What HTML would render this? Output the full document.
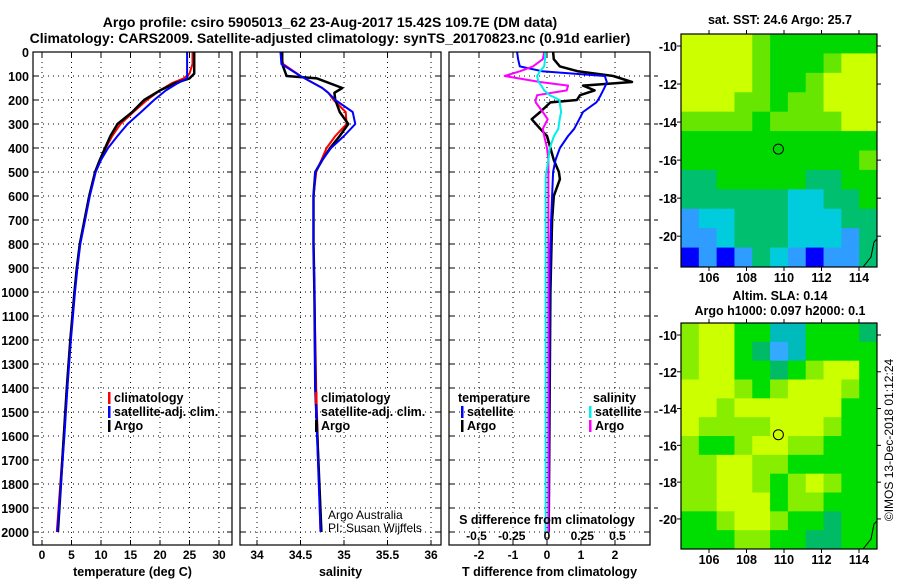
<!DOCTYPE html>
<html><head><meta charset="utf-8"><style>
body{margin:0;background:#fff;width:900px;height:580px;overflow:hidden}
svg{display:block;font-family:"Liberation Sans",Arial,sans-serif}
</style></head><body>
<svg id="c" width="900" height="580" xmlns="http://www.w3.org/2000/svg">
<text x="330" y="27" text-anchor="middle" font-size="14" font-weight="bold">Argo profile: csiro 5905013_62 23-Aug-2017 15.42S 109.7E (DM data)</text>
<text x="330" y="43" text-anchor="middle" font-size="14" font-weight="bold">Climatology: CARS2009. Satellite-adjusted climatology: synTS_20170823.nc (0.91d earlier)</text>
</svg>
<script>
const depths=[0,50,90,110,130,160,200,250,300,350,400,450,500,600,700,800,900,1000,1200,1400,1600,1800,2000];
const tArgo=[25.8,25.8,25.8,25.0,22.5,20.0,17.3,15.3,12.8,11.6,10.7,9.8,9.0,8.0,7.2,6.4,5.9,5.5,4.8,4.2,3.7,3.2,2.7];
const tClim=[25.5,25.5,25.0,24.0,22.0,20.0,17.8,15.5,13.3,11.9,10.8,9.8,9.0,8.0,7.2,6.4,5.9,5.5,4.8,4.2,3.7,3.1,2.5];
const tSat=[24.6,24.6,24.6,24.6,23.0,21.0,19.0,16.8,14.5,12.8,11.2,10.0,9.1,8.1,7.3,6.5,6.0,5.6,4.9,4.3,3.8,3.2,2.6];
const sDepths=[0,50,100,110,150,170,200,250,300,350,400,450,500,600,800,1000,1400,2000];
const sArgo=[34.29,34.29,34.34,34.69,34.98,34.89,34.9,34.95,35.05,34.95,34.84,34.75,34.67,34.65,34.65,34.66,34.67,34.74];
const sClim=[34.27,34.3,34.5,34.55,34.75,34.82,34.88,35.02,35.03,34.9,34.8,34.74,34.68,34.65,34.65,34.66,34.68,34.73];
const sSat=[34.27,34.28,34.5,34.55,34.75,34.82,34.9,35.1,35.13,35.0,34.85,34.75,34.67,34.65,34.65,34.66,34.67,34.73];
const dDepths=[0,30,60,80,100,125,140,160,180,200,210,250,280,320,350,400,450,500,530,600,700,1000,2000];
const dtSat=[-0.88,-0.85,-0.8,-0.15,1.7,1.76,1.72,1.65,1.58,1.5,1.45,1.06,0.95,0.8,0.62,0.38,0.25,0.18,0.17,0.15,0.12,0.08,0.05];
const dtArgo=[0.18,0.2,0.38,0.9,1.95,2.5,1.06,1.4,0.97,0.88,0.1,-0.2,-0.45,-0.2,0.0,0.1,0.2,0.35,0.38,0.2,0.15,0.1,0.05];
const dsSat=[-0.014,-0.014,-0.02,-0.05,-0.07,-0.06,-0.04,-0.02,0.02,0.09,0.09,0.1,0.09,0.08,0.05,0.02,0.01,-0.005,-0.01,-0.01,-0.01,-0.01,-0.01];
const dsArgo=[-0.02,-0.03,-0.1,-0.19,-0.3,-0.05,0.15,0.14,-0.07,-0.08,-0.08,-0.03,0.005,-0.03,-0.02,0.0,0.01,0.01,0.01,0.01,0.01,0.01,0.01];
const depthTicks=[0,100,200,300,400,500,600,700,800,900,1000,1100,1200,1300,1400,1500,1600,1700,1800,1900,2000];
const tTicks=[0,5,10,15,20,25,30];
const sTicks=[34,34.5,35,35.5,36];
const sTickLabels=["34","34.5","35","35.5","36"];
const dtTicks=[-2,-1,0,1,2];
const dsTicks=[-0.5,-0.25,0,0.25,0.5];
const dsTickLabels=["-0.5","-0.25","0","0.25","0.5"];
const lonTicks=[106,108,110,112,114];
const latTicks=[-10,-12,-14,-16,-18,-20];
const sstGrid=[
[6,6,6,6,5,4,4,4,4,4,4],[6,6,6,6,5,4,4,4,5,6,6],[6,6,6,6,5,4,4,5,6,6,6],[6,6,6,5,5,4,5,5,6,6,6],
[5,5,5,5,4,5,5,5,5,6,6],[4,4,4,4,4,4,4,4,4,4,4],[4,4,4,4,4,4,4,4,4,4,5],[3,3,4,4,4,4,4,3,3,4,4],
[3,3,3,3,3,3,2,2,3,3,4],[1,2,2,3,3,3,2,2,2,3,3],[1,1,2,3,3,3,2,2,2,1,3],[0,1,0,1,3,2,1,0,1,1,3]];
const slaGrid=[
[5,6,6,4,4,2,2,4,4,4,3],[5,6,6,4,3,1,2,4,4,4,4],[5,6,6,4,4,3,4,5,6,6,4],[6,6,6,5,4,5,6,6,6,5,4],
[6,6,5,6,6,6,6,6,6,4,4],[6,5,5,5,5,6,6,6,5,4,4],[5,4,4,5,6,6,5,5,4,4,4],[5,5,6,6,5,5,4,4,4,4,4],
[5,5,6,6,5,4,5,6,5,4,4],[5,5,6,6,6,4,5,5,4,4,4],[4,4,5,6,6,5,4,4,3,4,4],[4,4,4,5,5,4,4,3,3,4,4]];
const sstColors=["#0000ff","#2f9cff","#00ccdd","#00c070","#00d800","#66e600","#ccff00"];
const slaColors=["#0000ff","#33aaff","#00bbbb","#00bb66","#00dd00","#88ee00","#ccff00"];

const svg=document.getElementById('c');
const NS="http://www.w3.org/2000/svg";
function mk(tag,attrs,parent){const e=document.createElementNS(NS,tag);for(const k in attrs)e.setAttribute(k,attrs[k]);(parent||svg).appendChild(e);return e;}
function txt(x,y,s,size,anchor,parent){const e=mk('text',{x:x,y:y,'font-size':size,'font-weight':'bold','text-anchor':anchor||'middle'},parent);e.textContent=s;return e;}
const top0=52,bot=545;
const yD=d=>top0+d*0.24;
const panels=[
 {name:'temperature',x0:33,x1:232,sx:v=>42+v*5.9,ticks:tTicks,labels:tTicks.map(String),title:'temperature (deg C)'},
 {name:'salinity',x0:240,x1:441,sx:v=>257+(v-34)*87,ticks:sTicks,labels:sTickLabels,title:'salinity'},
 {name:'difference',x0:449,x1:650,sx:v=>547+v*34,ticks:dtTicks,labels:dtTicks.map(String),title:'T difference from climatology'}];
panels.forEach((p,i)=>{
 const g=mk('g',{});
 
 
 p.g=g;
 p.ticks.forEach(t=>{const x=p.sx(t);mk('line',{x1:x,x2:x,y1:top0,y2:bot,stroke:'#000','stroke-dasharray':'1 4','stroke-width':1},g);
  mk('line',{x1:x,x2:x,y1:bot,y2:bot-5,stroke:'#000'},g);mk('line',{x1:x,x2:x,y1:top0,y2:top0+5,stroke:'#000'},g);});
 depthTicks.forEach(d=>{const y=yD(d);mk('line',{x1:p.x0,x2:p.x1,y1:y,y2:y,stroke:'#000','stroke-dasharray':'1 4'},g);
  mk('line',{x1:p.x0,x2:p.x0+5,y1:y,y2:y,stroke:'#000'},g);mk('line',{x1:p.x1,x2:p.x1-5,y1:y,y2:y,stroke:'#000'},g);});
 p.ticks.forEach((t,k)=>{const e=txt(p.sx(t),559,p.labels[k],12,'middle',g);});
 const at=txt((p.x0+p.x1)/2,576,p.title,12.5,'middle',g);
 
 
});
depthTicks.forEach(d=>{const e=txt(29,yD(d)+5,String(d),12.5,'end');});
function line(p,xs,ds,color,w,name){
 const pts=xs.map((v,k)=>p.sx(v).toFixed(1)+','+yD(ds[k]).toFixed(1)).join(' ');
 const e=mk('polyline',{points:pts,fill:'none',stroke:color,'stroke-width':w,'stroke-linejoin':'round'},p.g);
 
 
}
line(panels[0],tClim,depths,'#ff0000',2,'temperature-climatology-line');
line(panels[0],tArgo,depths,'#000',2.5,'temperature-argo-line');
line(panels[0],tSat,depths,'#0000ff',2,'temperature-satellite-line');
line(panels[1],sClim,sDepths,'#ff0000',2,'salinity-climatology-line');
line(panels[1],sArgo,sDepths,'#000',2.5,'salinity-argo-line');
line(panels[1],sSat,sDepths,'#0000ff',2,'salinity-satellite-line');
const pS={g:panels[2].g,sx:v=>547+v*141};
line(panels[2],dtArgo,dDepths,'#000',2.5,'t-diff-argo-line');
line(panels[2],dtSat,dDepths,'#0000ff',2,'t-diff-satellite-line');
line(pS,dsArgo,dDepths,'#ff00ff',2,'s-diff-argo-line');
line(pS,dsSat,dDepths,'#00eeee',2,'s-diff-satellite-line');
panels.forEach(p=>{mk('rect',{x:p.x0,y:top0,width:p.x1-p.x0,height:bot-top0,fill:'none',stroke:'#000','stroke-width':1.2},p.g);});
depthTicks.forEach(d=>{if(d%200==100)mk('line',{x1:654,x2:658,y1:yD(d),y2:yD(d),stroke:'#000'});});
txt(547,524,'S difference from climatology',12.5);
dsTicks.forEach((t,k)=>{const e=txt(pS.sx(t),540,dsTickLabels[k],12);});
function leg(x,y,color,label,name){const g=mk('g',{});
 mk('rect',{x:x,y:y-10,width:2.5,height:12,fill:color},g);txt(x+6,y,label,12.5,'start',g);}
[[33,'temperature'],[240,'salinity']].forEach(([x0,n])=>{
 leg(x0+75,402,'#ff0000','climatology','legend-'+n+'-climatology');
 leg(x0+75,416,'#0000ff','satellite-adj. clim.','legend-'+n+'-satellite');
 leg(x0+75,430,'#000','Argo','legend-'+n+'-argo');});
txt(458,402,'temperature',12.5,'start');
leg(461,416,'#0000ff','satellite','legend-t-diff-satellite');
leg(461,430,'#000','Argo','legend-t-diff-argo');
txt(593,402,'salinity',12.5,'start');
leg(589,416,'#00eeee','satellite','legend-s-diff-satellite');
leg(589,430,'#ff00ff','Argo','legend-s-diff-argo');
const c1=mk('text',{x:328,y:519,'font-size':12,'text-anchor':'start'});c1.textContent='Argo Australia';
const c2=mk('text',{x:328,y:532,'font-size':12,'text-anchor':'start'});c2.textContent='PI: Susan Wijffels';
function map(y0,y1,grid,colors,name){
 const x0=681,x1=877;const g=mk('g',{});
 const rows=grid.length,cols=grid[0].length,cw=(x1-x0)/cols,ch=(y1-y0)/rows;
 grid.forEach((r,i)=>r.forEach((v,j)=>{const c=mk('rect',{x:x0+j*cw,y:y0+i*ch,width:cw+0.5,height:ch+0.5,fill:colors[v]},g);
  }));
 const lx=lon=>709+(lon-106)*18.75, ly=lat=>y0+12+(-10-lat)*((y1-y0-20)/11.2);
 mk('rect',{x:x0,y:y0,width:x1-x0,height:y1-y0,fill:'none',stroke:'#000','stroke-width':1.2},g);
 lonTicks.forEach(l=>{mk('line',{x1:lx(l),x2:lx(l),y1:y1,y2:y1+4,stroke:'#000'},g);mk('line',{x1:lx(l),x2:lx(l),y1:y0,y2:y0-4,stroke:'#000'},g);txt(lx(l),y1+15,String(l),12.5,'middle',g);});
 latTicks.forEach(l=>{mk('line',{x1:x0,x2:x0-4,y1:ly(l),y2:ly(l),stroke:'#000'},g);mk('line',{x1:x1,x2:x1+4,y1:ly(l),y2:ly(l),stroke:'#000'},g);txt(x0-4,ly(l)+5,String(l),12.5,'end',g);});
 mk('circle',{cx:lx(109.7),cy:ly(-15.42),r:5,fill:'none',stroke:'#000'},g);
 mk('polyline',{points:`${x1-14},${y1} ${x1-6},${y1-10} ${x1-3},${y1-25} ${x1},${y1-28}`,fill:'none',stroke:'#000'},g);
}
map(34,267,sstGrid,sstColors,'sst-map');
map(323,549,slaGrid,slaColors,'sla-map');
txt(780,24,'sat. SST: 24.6 Argo: 25.7',12.5);
txt(780,300,'Altim. SLA: 0.14',12.5);
txt(780,315,'Argo h1000: 0.097 h2000: 0.1',12.5);
const cr=mk('text',{x:0,y:0,'font-size':12,'text-anchor':'middle',transform:'translate(893,440) rotate(-90)'});cr.textContent='©IMOS 13-Dec-2018 01:12:24';
</script>
</body></html>
